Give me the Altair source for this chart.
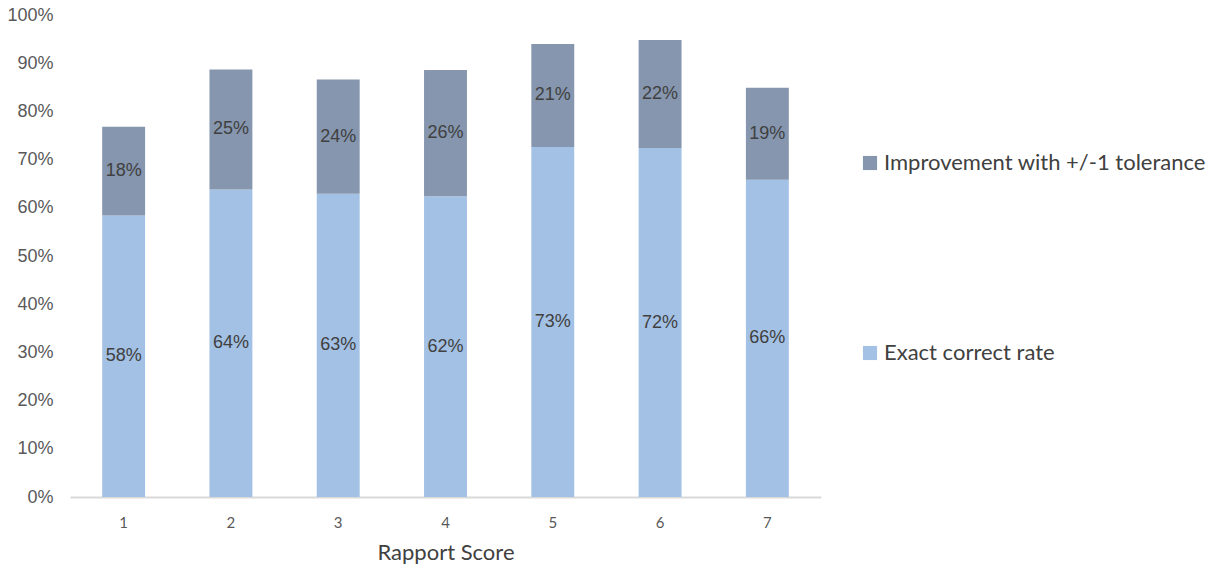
import altair as alt
import pandas as pd

scores = ["1", "2", "3", "4", "5", "6", "7"]
exact = [0.584, 0.638, 0.629, 0.624, 0.726, 0.724, 0.658]
improvement = [0.184, 0.249, 0.237, 0.262, 0.214, 0.224, 0.191]
series_names = ["Improvement with +/-1 tolerance", "Exact correct rate"]
colors = ["#8596AE", "#A3C1E4"]

rows = []
for s, e, i in zip(scores, exact, improvement):
    rows.append({"score": s, "series": series_names[1], "value": e, "ord": 0})
    rows.append({"score": s, "series": series_names[0], "value": i, "ord": 1})
df = pd.DataFrame(rows)

base = alt.Chart(df).transform_stack(
    stack="value", groupby=["score"], as_=["y0", "y1"],
    sort=[alt.SortField("ord", order="ascending")]
).transform_calculate(mid="(datum.y0 + datum.y1) / 2")

x = alt.X("score:N", title="Rapport Score",
          scale=alt.Scale(paddingInner=0.6, paddingOuter=0.3),
          axis=alt.Axis(labelAngle=0, ticks=False, domainColor="#d9d9d9", domainWidth=2,
                        labelColor="#595959", labelFontSize=15, labelPadding=18,
                        labelFont="Lato",
                        titleColor="#404040", titleFontSize=22, titleFontWeight="normal",
                        titleFont="Lato", titlePadding=12))

bars = base.mark_bar().encode(
    x=x,
    y=alt.Y("y0:Q", scale=alt.Scale(domain=[0, 1], nice=False),
            axis=alt.Axis(format=".0%", values=[i / 10 for i in range(11)], domain=False,
                          ticks=False, grid=False, labelColor="#595959", labelFontSize=18,
                          labelFont="Liberation Sans", labelPadding=17, title=None)),
    y2="y1:Q",
    color=alt.Color("series:N", scale=alt.Scale(domain=series_names, range=colors),
                    legend=alt.Legend(title=None, orient="none", legendX=789, legendY=137,
                                      symbolType="square", symbolSize=200,
                                      symbolStrokeWidth=0, labelFontSize=22,
                                      labelFont="Lato", labelColor="#404040",
                                      labelOffset=3,
                                      rowPadding=168, labelLimit=400, padding=0)),
)

text = base.mark_text(fontSize=18, color="#404040", font="Liberation Sans").encode(
    x=alt.X("score:N"),
    y=alt.Y("mid:Q"),
    text=alt.Text("value:Q", format=".0%"),
)

chart = (bars + text).properties(
    width=751, height=482,
    padding={"left": 70, "top": 15, "right": 398, "bottom": 73},
    autosize=alt.AutoSizeParams(type="none"),
).configure_view(stroke=None)

chart.save("out.html", embed_options={"renderer": "svg", "actions": False})
